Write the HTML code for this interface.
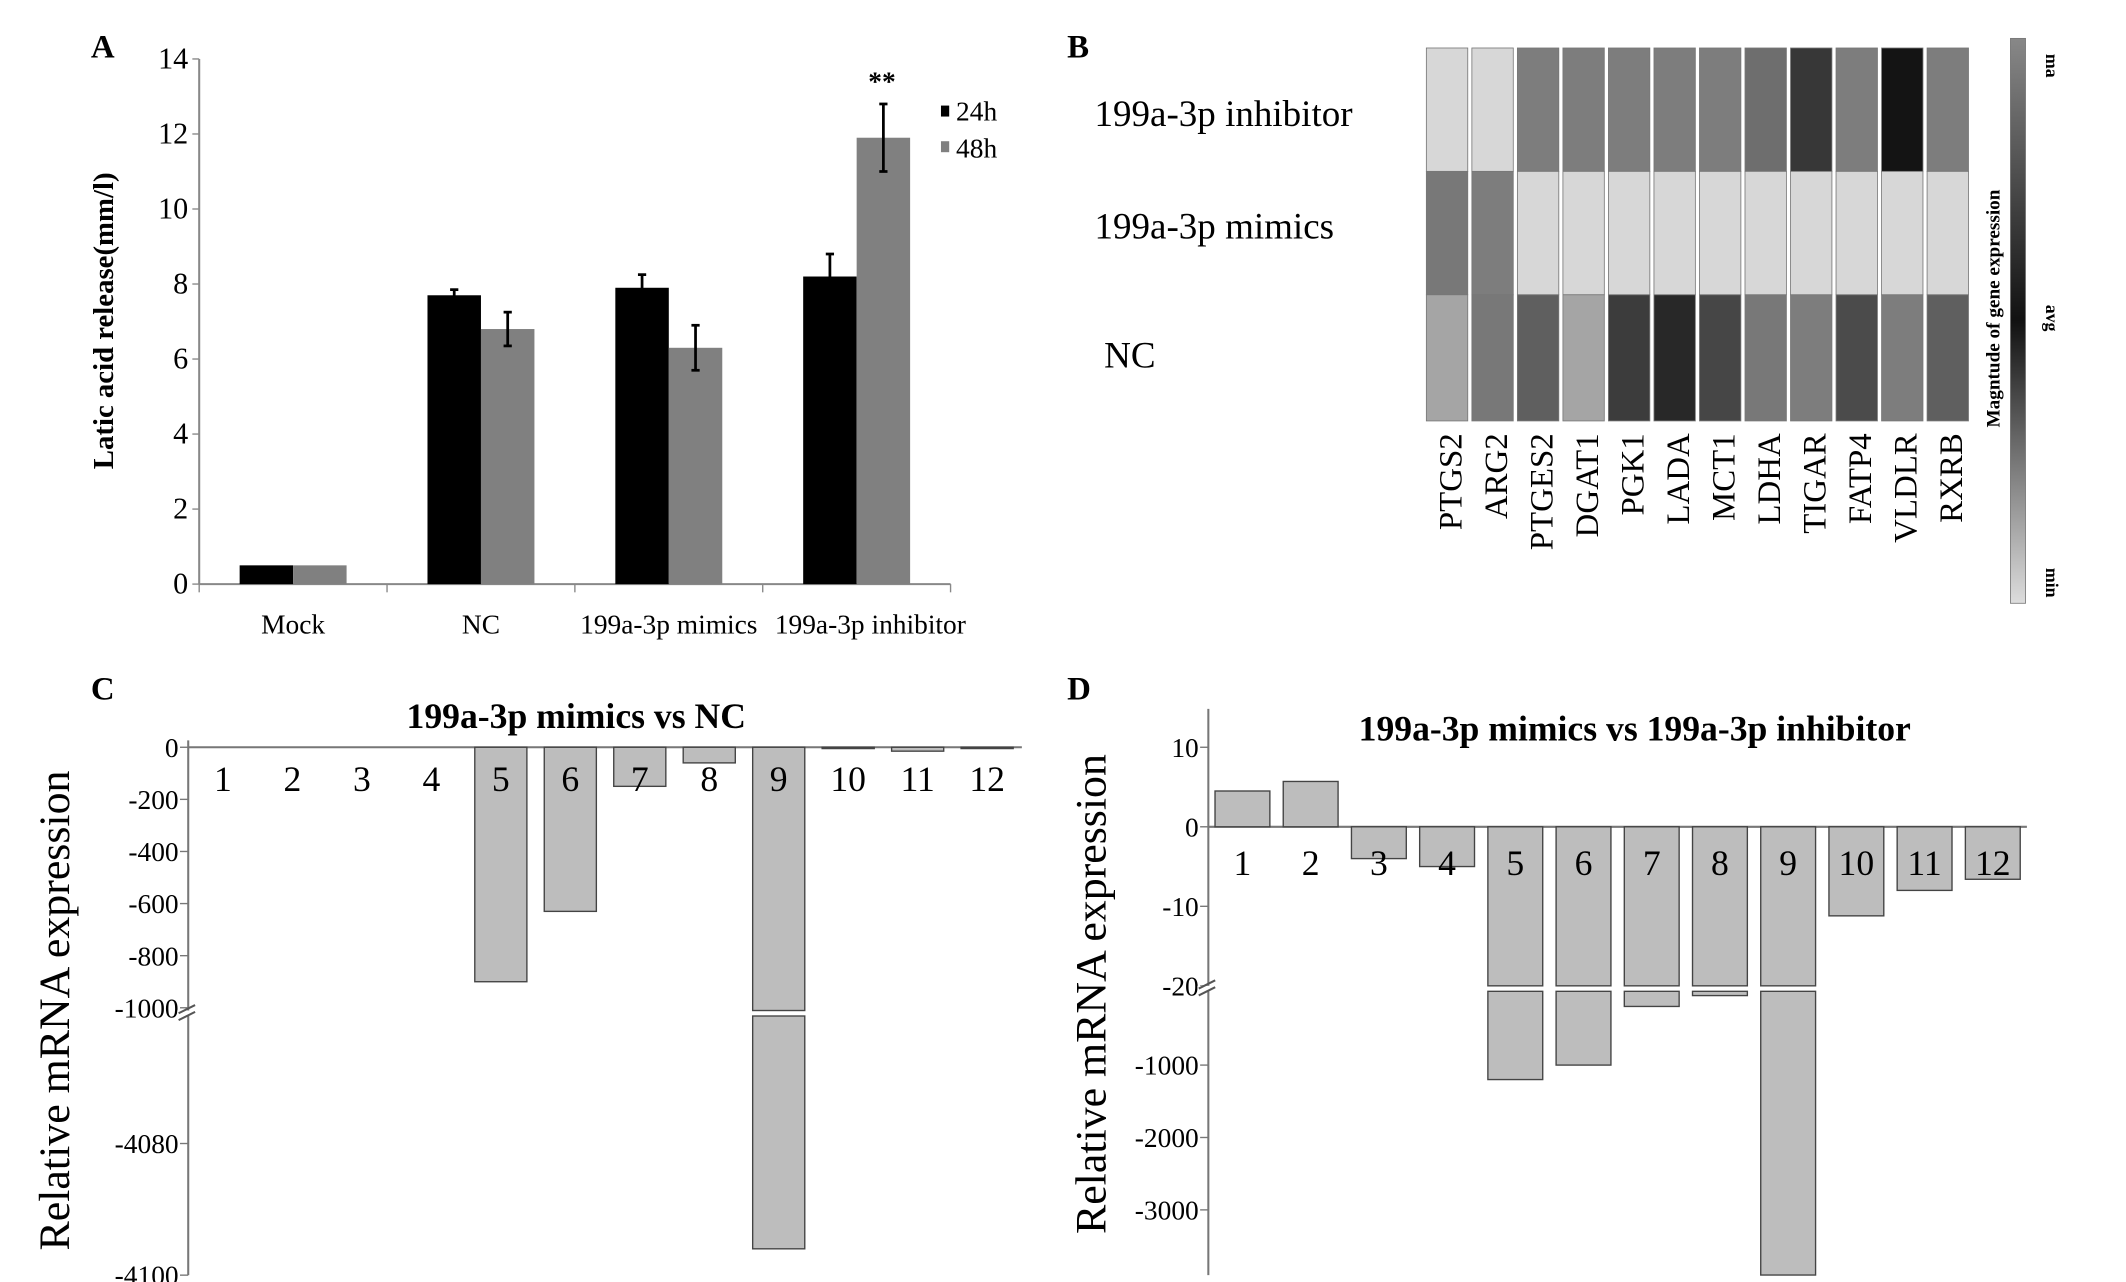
<!DOCTYPE html>
<html><head><meta charset="utf-8"><style>
html,body{margin:0;padding:0;background:#fff}
svg{display:block}
text{font-family:"Liberation Serif",serif}
</style></head><body>
<svg id="fig" width="2126" height="1282" viewBox="0 0 1550 935" xmlns="http://www.w3.org/2000/svg">
<rect width="1550" height="935" fill="#fff"/>
<g id="pa"></g>
<g id="pb"></g>
<g id="pc"></g>
<g id="pd"></g>
</svg>
<script>
// Panel A data
const aCategories=["Mock","NC","199a-3p mimics","199a-3p inhibitor"];
const a24=[0.5,7.7,7.9,8.2];
const a48=[0.5,6.8,6.3,11.9];
const a24err=[0,0.15,0.35,0.6];
const a48err=[0,0.45,0.6,0.9];
const aTicks=[0,2,4,6,8,10,12,14];
// Panel B data
const bGenes=["PTGS2","ARG2","PTGES2","DGAT1","PGK1","LADA","MCT1","LDHA","TIGAR","FATP4","VLDLR","RXRB"];
const bRows=["199a-3p inhibitor","199a-3p mimics","NC"];
const bInhibitor=[215,215,125,125,125,125,125,110,55,125,20,125];
const bMimics=[120,125,215,215,215,215,215,215,215,215,215,215];
const bNC=[165,120,95,165,60,40,70,120,125,75,125,95];
// Panel C data
const cLabels=["1","2","3","4","5","6","7","8","9","10","11","12"];
const cValues=[0,0,0,0,-900,-630,-150,-60,-4096,-5,-15,-5];
const cTicksUpper=[0,-200,-400,-600,-800,-1000];
const cTicksLower=[-4080,-4100];
// Panel D data
const dLabels=["1","2","3","4","5","6","7","8","9","10","11","12"];
const dValues=[4.5,5.7,-4,-5,-1200,-1000,-190,-40,-3900,-11.2,-8,-6.6];
const dTicksUpper=[10,0,-10,-20];
const dTicksLower=[-1000,-2000,-3000];

const NS="http://www.w3.org/2000/svg";
function mk(p,tag,attrs,txt){const e=document.createElementNS(NS,tag);for(const k in attrs)e.setAttribute(k,attrs[k]);if(txt!==undefined)e.textContent=txt;p.appendChild(e);return e;}

// ---------- Panel A ----------
(function(){
const g=document.getElementById('pa');
const x0=145,x1=693,yb=426,yt=43;
const ys=v=>yb-(v/14)*(yb-yt);
const gw=(x1-x0)/aCategories.length,bw=39;
let t=mk(g,'text',{x:66,y:42,'font-size':24,'font-weight':'bold'},'A');
let ax=mk(g,'line',{x1:x0,y1:yt,x2:x0,y2:yb,stroke:'#888','stroke-width':1.5});
ax=mk(g,'line',{x1:x0,y1:yb,x2:x1,y2:yb,stroke:'#888','stroke-width':1.5});
aTicks.forEach(v=>{mk(g,'line',{x1:x0-5,y1:ys(v),x2:x0,y2:ys(v),stroke:'#888'});
 const l=mk(g,'text',{x:x0-8,y:ys(v)+7,'font-size':22,'text-anchor':'end'},v);});
for(let i=0;i<=aCategories.length;i++)mk(g,'line',{x1:x0+i*gw,y1:yb,x2:x0+i*gw,y2:yb+6,stroke:'#888'});
aCategories.forEach((c,i)=>{const cx=x0+(i+0.5)*gw;
 const l=mk(g,'text',{x:cx+(i==3?10:0),y:462,'font-size':20,'text-anchor':'middle'},c);
 let b=mk(g,'rect',{x:cx-bw,y:ys(a24[i]),width:bw,height:yb-ys(a24[i]),fill:'#000'});
 b=mk(g,'rect',{x:cx,y:ys(a48[i]),width:bw,height:yb-ys(a48[i]),fill:'#808080'});
 [[a24,a24err,cx-bw/2],[a48,a48err,cx+bw/2]].forEach(([v,e,x])=>{if(e[i]>0){
  mk(g,'line',{x1:x,y1:ys(v[i]+e[i]),x2:x,y2:ys(v[i]-e[i]),stroke:'#000','stroke-width':2});
  mk(g,'line',{x1:x-3,y1:ys(v[i]+e[i]),x2:x+3,y2:ys(v[i]+e[i]),stroke:'#000','stroke-width':2});
  mk(g,'line',{x1:x-3,y1:ys(v[i]-e[i]),x2:x+3,y2:ys(v[i]-e[i]),stroke:'#000','stroke-width':2});}});
});
t=mk(g,'text',{x:643,y:66,'font-size':20,'font-weight':'bold','text-anchor':'middle'},'**');
let le=mk(g,'g',{});
mk(le,'rect',{x:686,y:77,width:6,height:8,fill:'#000'});mk(le,'text',{x:697,y:88,'font-size':20},'24h');
le=mk(g,'g',{});
mk(le,'rect',{x:686,y:103,width:6,height:8,fill:'#808080'});mk(le,'text',{x:697,y:115,'font-size':20},'48h');
t=mk(g,'text',{x:82,y:234,'font-size':21,'font-weight':'bold','text-anchor':'middle',transform:'rotate(-90 82 234)'},'Latic acid release(mm/l)');
})();

// ---------- Panel B ----------
(function(){
const g=document.getElementById('pb');
let t=mk(g,'text',{x:778,y:42,'font-size':24,'font-weight':'bold'},'B');
const rows=[bInhibitor,bMimics,bNC];const x0=1040,cw=33.2,rt=[35,125,215],rh=[90,90,92];
rows.forEach((r,ri)=>r.forEach((v,ci)=>{const c=mk(g,'rect',{x:x0+ci*cw,y:rt[ri],width:cw-3,height:rh[ri],fill:`rgb(${v},${v},${v})`,stroke:'#777','stroke-width':0.6});}));
const ry=[92,174,268];
bRows.forEach((r,i)=>{const l=mk(g,'text',{x:i==2?805:798,y:ry[i],'font-size':27},r);});
bGenes.forEach((n,i)=>{const x=x0+i*cw+cw/2+9;const l=mk(g,'text',{x:x,y:316,'font-size':24,'text-anchor':'end',transform:`rotate(-90 ${x} 316)`},n);});
const defs=mk(g,'defs',{});const lg=mk(defs,'linearGradient',{id:'cb',x1:0,y1:1,x2:0,y2:0});
mk(lg,'stop',{offset:'0','stop-color':'#ddd'});mk(lg,'stop',{offset:'0.5','stop-color':'#111'});mk(lg,'stop',{offset:'1','stop-color':'#888'});
const cb=mk(g,'rect',{x:1466,y:28,width:11,height:412,fill:'url(#cb)',stroke:'#777','stroke-width':0.6});
[['ma',48],['avg',232],['min',425]].forEach(([s,y])=>{const l=mk(g,'text',{x:1492,y:y,'font-size':13,'font-weight':'bold','text-anchor':'middle',transform:`rotate(90 1492 ${y})`},s);});
t=mk(g,'text',{x:1458,y:225,'font-size':14,'font-weight':'bold','text-anchor':'middle',transform:'rotate(-90 1458 225)'},'Magntude of gene expression');
})();

function broken(g,cfg){
const {x0,x1,labels,values,up,lo,ticksU,ticksL,labelY,barW}=cfg;
const ax=mk(g,'line',{x1:x0,y1:cfg.top,x2:x0,y2:cfg.bottom,stroke:'#777','stroke-width':1.5});
const zl=mk(g,'line',{x1:x0,y1:up(0),x2:x1,y2:up(0),stroke:'#777','stroke-width':1.5});
ticksU.forEach(v=>{mk(g,'line',{x1:x0-6,y1:up(v),x2:x0,y2:up(v),stroke:'#777'});const l=mk(g,'text',{x:x0-7,y:up(v)+7,'font-size':20,'text-anchor':'end'},v);});
ticksL.forEach(v=>{mk(g,'line',{x1:x0-6,y1:lo(v),x2:x0,y2:lo(v),stroke:'#777'});const l=mk(g,'text',{x:x0-7,y:lo(v)+7,'font-size':20,'text-anchor':'end'},v);});
mk(g,'rect',{x:x0-8,y:cfg.brk,width:16,height:4,fill:'#fff'});
mk(g,'line',{x1:x0-7,y1:cfg.brk+2,x2:x0+5,y2:cfg.brk-4,stroke:'#555','stroke-width':1.5});
mk(g,'line',{x1:x0-7,y1:cfg.brk+7,x2:x0+5,y2:cfg.brk+1,stroke:'#555','stroke-width':1.5});
const cw=(x1-x0)/labels.length;
values.forEach((v,i)=>{const cx=x0+(i+0.5)*cw;
 if(v>=cfg.brkVal){const y=Math.min(up(v),up(0)),h=Math.abs(up(v)-up(0));
  if(h>0.5){const b=mk(g,'rect',{x:cx-barW/2,y:y,width:barW,height:h,fill:'#bdbdbd',stroke:'#444','stroke-width':1});}}
 else{const b=mk(g,'rect',{x:cx-barW/2,y:up(0),width:barW,height:cfg.brk-up(0),fill:'#bdbdbd',stroke:'#444','stroke-width':1});
  const b2=mk(g,'rect',{x:cx-barW/2,y:cfg.brk+4,width:barW,height:Math.max(1,lo(v)-cfg.brk-4),fill:'#bdbdbd',stroke:'#444','stroke-width':1});}
 const l=mk(g,'text',{x:cx,y:labelY,'font-size':26,'text-anchor':'middle'},labels[i]);
});
}

// ---------- Panel C ----------
(function(){
const g=document.getElementById('pc');
let t=mk(g,'text',{x:66,y:510,'font-size':24,'font-weight':'bold'},'C');
broken(g,{x0:137,x1:745,labels:cLabels,values:cValues,top:540,bottom:930,brk:737,brkVal:-1000,
 up:v=>545-v*0.19,lo:v=>834+(-4080-v)*4.8,ticksU:cTicksUpper,ticksL:cTicksLower,labelY:577,barW:38});
t=mk(g,'text',{x:420,y:531,'font-size':26,'font-weight':'bold','text-anchor':'middle'},'199a-3p mimics vs NC');
t=mk(g,'text',{x:50,y:737,'font-size':32,'text-anchor':'middle',transform:'rotate(-90 50 737)'},'Relative mRNA expression');
})();

// ---------- Panel D ----------
(function(){
const g=document.getElementById('pd');
let t=mk(g,'text',{x:778,y:510,'font-size':24,'font-weight':'bold'},'D');
broken(g,{x0:881,x1:1478,labels:dLabels,values:dValues,top:517,bottom:930,brk:719,brkVal:-20,
 up:v=>603-v*5.8,lo:v=>724+(-v)*0.0528,ticksU:dTicksUpper,ticksL:dTicksLower,labelY:638,barW:40});
t=mk(g,'text',{x:1192,y:540,'font-size':26,'font-weight':'bold','text-anchor':'middle'},'199a-3p mimics vs 199a-3p inhibitor');
t=mk(g,'text',{x:806,y:725,'font-size':32,'text-anchor':'middle',transform:'rotate(-90 806 725)'},'Relative mRNA expression');
})();
</script>
</body></html>
